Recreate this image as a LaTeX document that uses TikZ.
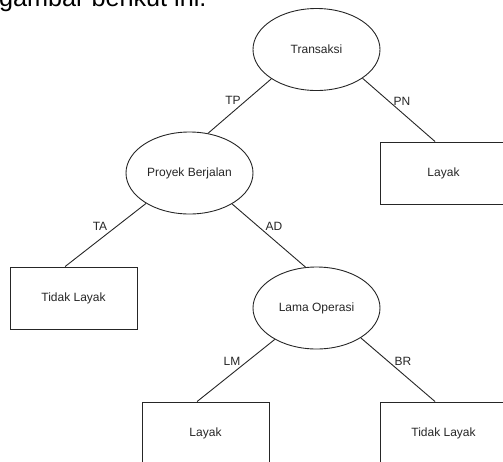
\documentclass[tikz,border=0pt]{standalone}
\usepackage{fontspec}
\setmainfont{Liberation Sans}
\usetikzlibrary{shapes.geometric}
\begin{document}
\begin{tikzpicture}[x=1pt,y=-1pt,
  every node/.style={font=\fontsize{12}{14}\selectfont, text=black!85},
  decision/.style={ellipse, draw=black!85, line width=0.9pt, minimum width=127, minimum height=82, inner sep=0pt},
  leaf/.style={rectangle, draw=black!85, line width=0.9pt, minimum width=127, minimum height=62, inner sep=0pt},
  edge/.style={draw=black!85, line width=0.9pt},
  lbl/.style={inner sep=0pt}
]
\useasboundingbox (0,0) rectangle (503,461);
\begin{scope}
\clip (0,0) rectangle (503,461);
\node[anchor=base west, inner sep=0pt, font=\fontsize{25.2}{28}\selectfont, text=black] (hdr) at (-1,6.5) {gambar berikut ini.};

\node[decision] (t) at (316.5,49.5) {Transaksi};
\node[decision] (p) at (189.5,173) {Proyek Berjalan};
\node[leaf] (lr) at (443.5,173) {Layak};
\node[leaf] (tl) at (73.5,298) {Tidak Layak};
\node[decision] (l) at (316.5,308) {Lama Operasi};
\node[leaf] (lb) at (205.5,433) {Layak};
\node[leaf] (tb) at (443.5,433) {Tidak Layak};

\draw[edge] (t.213.5) -- (p.65.2);
\draw[edge] (t.328) -- (lr.105.3);
\draw[edge] (p.215.1) -- (tl.105.3);
\draw[edge] (p.324.5) -- (l.105.7);
\draw[edge] (l.217.4) -- (lb.105.3);
\draw[edge] (l.326.6) -- (tb.105.3);

\node[lbl] (ltp) at (233,100) {TP};
\node[lbl] (lpn) at (402,101) {PN};
\node[lbl] (lta) at (100,226) {TA};
\node[lbl] (lad) at (274,226) {AD};
\node[lbl] (llm) at (232,361) {LM};
\node[lbl] (lbr) at (403,361) {BR};
\end{scope}
\end{tikzpicture}
\end{document}
